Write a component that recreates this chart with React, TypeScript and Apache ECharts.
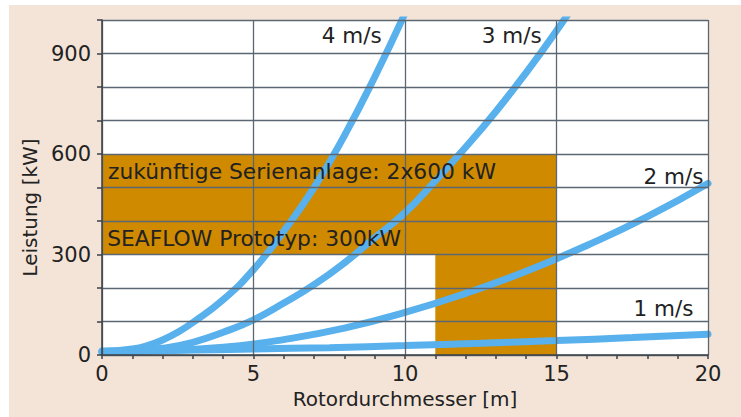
import React, { useEffect, useRef } from "react";
import * as echarts from "echarts";

// Rotor diameter [m] and power [kW]
const D_4MS = [0, 1, 1.5, 2, 2.5, 3, 4, 5, 6, 7, 8, 9, 10];
const P_4MS = [10, 18, 28, 45, 68, 97, 165, 255, 370, 500, 655, 830, 1020];

const D_3MS = [0, 1, 2, 3, 4, 5, 6, 7, 8, 9, 10, 11, 12, 13, 14, 15, 16];
const P_3MS = [10, 12, 20, 38, 68, 105, 155, 210, 275, 350, 425, 520, 620, 727, 843, 968, 1100];

const D_2MS = [0, 2, 4, 6, 8, 10, 12, 14, 16, 18, 20];
const P_2MS = [10, 13, 23, 46, 80, 127, 184, 250, 327, 413, 512];

const D_1MS = [0, 2.5, 5, 7.5, 10, 12.5, 15, 17.5, 20];
const P_1MS = [12, 14, 18, 22, 28, 35, 43, 52, 62];

const CURVE_NAMES = ["4 m/s", "3 m/s", "2 m/s", "1 m/s"];
// label anchors in data coordinates [diameter, power]
const CURVE_LABEL_AT = [
  [8.24, 955],
  [13.52, 955],
  [19.85, 534],
  [19.52, 140],
];

// areas: [x0, y0, x1, y1]
const AREA_SERIE = [0, 300, 15, 600];
const AREA_PROTO = [11, 0, 15, 300];
const AREA_TEXTS = ["zukünftige Serienanlage: 2x600 kW", "SEAFLOW Prototyp: 300kW"];
const AREA_TEXT_AT = [
  [0.2, 549],
  [0.17, 349],
];

const X_TITLE = "Rotordurchmesser [m]";
const Y_TITLE = "Leistung [kW]";

const FONT = "DejaVu Sans";
const BLUE = "#58b0ec";
const ORANGE = "#cf8a00";
const GRID = "#5b6874";
const AXIS = "#3c4248";
const TEXT = "#222";

const pairs = (xs: number[], ys: number[]) => xs.map((x, i) => [x, ys[i]]);

export default function App() {
  const ref = useRef<HTMLDivElement>(null);
  useEffect(() => {
    const chart = echarts.init(ref.current!, null, { renderer: "svg" });
    const curves = [
      pairs(D_4MS, P_4MS),
      pairs(D_3MS, P_3MS),
      pairs(D_2MS, P_2MS),
      pairs(D_1MS, P_1MS),
    ];
    const option: any = {
      animation: false,
      backgroundColor: "#f4e4d7",
      grid: { left: 93, top: 15, right: 33, bottom: 62 },
      xAxis: {
        type: "value",
        min: 0,
        max: 20,
        interval: 5,
        z: 6,
        name: X_TITLE,
        nameLocation: "middle",
        nameGap: 32,
        nameTextStyle: { fontFamily: FONT, fontSize: 20, color: TEXT },
        axisLine: { show: true, lineStyle: { color: AXIS, width: 1.5 } },
        axisTick: { show: true, length: 4, lineStyle: { color: AXIS, width: 1.5 } },
        minorTick: { show: true, splitNumber: 5, length: 4, lineStyle: { color: AXIS, width: 1.5 } },
        splitLine: { show: true, lineStyle: { color: GRID, width: 1.3 } },
        axisLabel: { fontFamily: FONT, fontSize: 21, color: TEXT, margin: 8 },
      },
      yAxis: {
        type: "value",
        min: 0,
        max: 1000,
        interval: 100,
        z: 6,
        name: Y_TITLE,
        nameLocation: "middle",
        nameGap: 53,
        nameTextStyle: { fontFamily: FONT, fontSize: 20, color: TEXT, padding: [0, 40, 0, 0] },
        axisLine: { show: true, lineStyle: { color: AXIS, width: 1.5 } },
        axisTick: { show: true, length: 5, lineStyle: { color: AXIS, width: 1.5 } },
        splitLine: { show: true, lineStyle: { color: GRID, width: 1.3 } },
        axisLabel: {
          fontFamily: FONT,
          fontSize: 21,
          color: TEXT,
          margin: 11,
          formatter: (v: number) => (v % 300 === 0 ? String(v) : ""),
        },
      },
      series: [
        {
          type: "line",
          data: [],
          z: 1,
          silent: true,
          markArea: {
            silent: true,
            z: 1,
            label: { show: false },
            data: [
              [
                { coord: [0, 0], itemStyle: { color: "#ffffff" } },
                { coord: [20, 1000] },
              ],
              [
                { coord: [AREA_SERIE[0], AREA_SERIE[1]], itemStyle: { color: ORANGE } },
                { coord: [AREA_SERIE[2], AREA_SERIE[3]] },
              ],
              [
                { coord: [AREA_PROTO[0], AREA_PROTO[1]], itemStyle: { color: ORANGE } },
                { coord: [AREA_PROTO[2], AREA_PROTO[3]] },
              ],
            ],
          },
        },
        ...curves.map((d, i) => ({
          type: "line",
          name: CURVE_NAMES[i],
          data: d,
          smooth: true,
          symbol: "none",
          clip: true,
          z: 5,
          lineStyle: { color: BLUE, width: 7, cap: "round" },
        })),
      ],
    };
    chart.setOption(option);

    const graphics: any[] = [];
    CURVE_NAMES.forEach((t, i) => {
      const p = chart.convertToPixel({ gridIndex: 0 }, CURVE_LABEL_AT[i]) as number[];
      graphics.push({
        type: "text",
        x: p[0],
        y: p[1],
        z: 10,
        style: {
          text: t,
          fontFamily: FONT,
          fontSize: 21.5,
          fill: TEXT,
          align: i < 2 ? "center" : "right",
          verticalAlign: "middle",
        },
      });
    });
    AREA_TEXTS.forEach((t, i) => {
      const p = chart.convertToPixel({ gridIndex: 0 }, AREA_TEXT_AT[i]) as number[];
      graphics.push({
        type: "text",
        x: p[0],
        y: p[1],
        z: 10,
        style: {
          text: t,
          fontFamily: FONT,
          fontSize: 21.8,
          fill: TEXT,
          align: "left",
          verticalAlign: "middle",
        },
      });
    });
    chart.setOption({ graphic: graphics });
    return () => chart.dispose();
  }, []);
  return (
    <div
      ref={ref}
      style={{ position: "absolute", left: 9, top: 5, width: 732, height: 412 }}
    />
  );
}
